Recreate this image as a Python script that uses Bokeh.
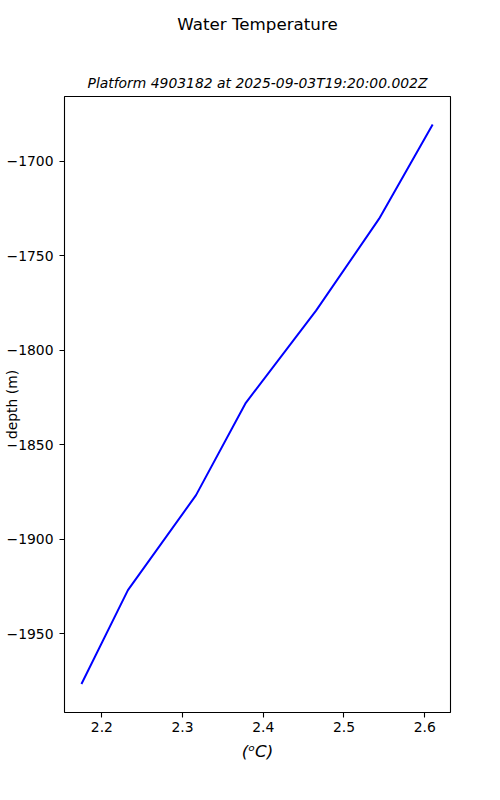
from bokeh.plotting import figure
from bokeh.models import Range1d, FixedTicker, CustomJSTickFormatter, Title
from bokeh.embed import file_html
from bokeh.resources import INLINE

# Data
temperature = [2.6099, 2.5436, 2.4654, 2.3784, 2.3167, 2.2323, 2.1747]
depth = [-1680.4, -1730.3, -1779.0, -1827.8, -1876.7, -1927.0, -1976.7]
x_ticks = [2.2, 2.3, 2.4, 2.5, 2.6]
y_ticks = [-1950, -1900, -1850, -1800, -1750, -1700]

suptitle = "Water Temperature"
subtitle = "Platform 4903182 at 2025-09-03T19:20:00.002Z"
x_label = "(ᵒC)"
y_label = "depth (m)"

FONT = "DejaVu Sans"
y_lo, y_hi = -1991.8, -1665.6

p = figure(width=492, height=792, output_backend="svg", toolbar_location=None,
           x_range=Range1d(2.1537, 2.632), y_range=Range1d(y_lo, y_hi),
           min_border_left=63, min_border_right=42, min_border_top=96,
           min_border_bottom=80)

# outermost title: the figure's suptitle
p.title.text = suptitle
p.title.text_font = FONT
p.title.text_font_style = "normal"
p.title.text_font_size = "16.7px"
p.title.align = "center"
p.title.text_color = "black"
p.title.standoff = 0

# subtitle, next to the frame
p.add_layout(Title(text=subtitle, text_font=FONT, text_font_size="13.9px",
                   text_font_style="italic", align="center", text_color="black",
                   standoff=12), "above")
# blank spacer between the two titles
p.add_layout(Title(text=" ", text_font=FONT, text_font_size="1px",
                   align="center", standoff=30), "above")

p.line(temperature, depth, line_color="blue", line_width=2)

p.xgrid.visible = False
p.ygrid.visible = False
p.outline_line_color = "black"
p.outline_line_width = 1.1
p.background_fill_color = "white"
p.border_fill_color = "white"

for ax in (p.xaxis[0], p.yaxis[0]):
    ax.axis_line_color = None
    ax.major_tick_line_color = "black"
    ax.major_tick_line_width = 1.1
    ax.major_tick_out = 5
    ax.major_tick_in = 0
    ax.minor_tick_line_color = None
    ax.major_label_text_font = FONT
    ax.major_label_text_font_size = "13.9px"
    ax.major_label_text_color = "black"
    ax.axis_label_text_font = FONT
    ax.axis_label_text_color = "black"

p.xaxis.ticker = FixedTicker(ticks=x_ticks)
p.yaxis.ticker = FixedTicker(ticks=y_ticks)
p.yaxis.formatter = CustomJSTickFormatter(
    code="return tick < 0 ? '\u2212' + Math.abs(tick) : String(tick);")

p.xaxis.major_label_standoff = 4
p.yaxis.major_label_standoff = 6

p.xaxis.axis_label = x_label
p.xaxis.axis_label_text_font_size = "16.7px"
p.xaxis.axis_label_text_font_style = "italic"
p.xaxis.axis_label_standoff = 6

p.yaxis.axis_label = y_label
p.yaxis.axis_label_text_font_size = "13.9px"
p.yaxis.axis_label_text_font_style = "normal"
p.yaxis.axis_label_standoff = -16

open("out.html", "w").write(file_html(p, INLINE))
